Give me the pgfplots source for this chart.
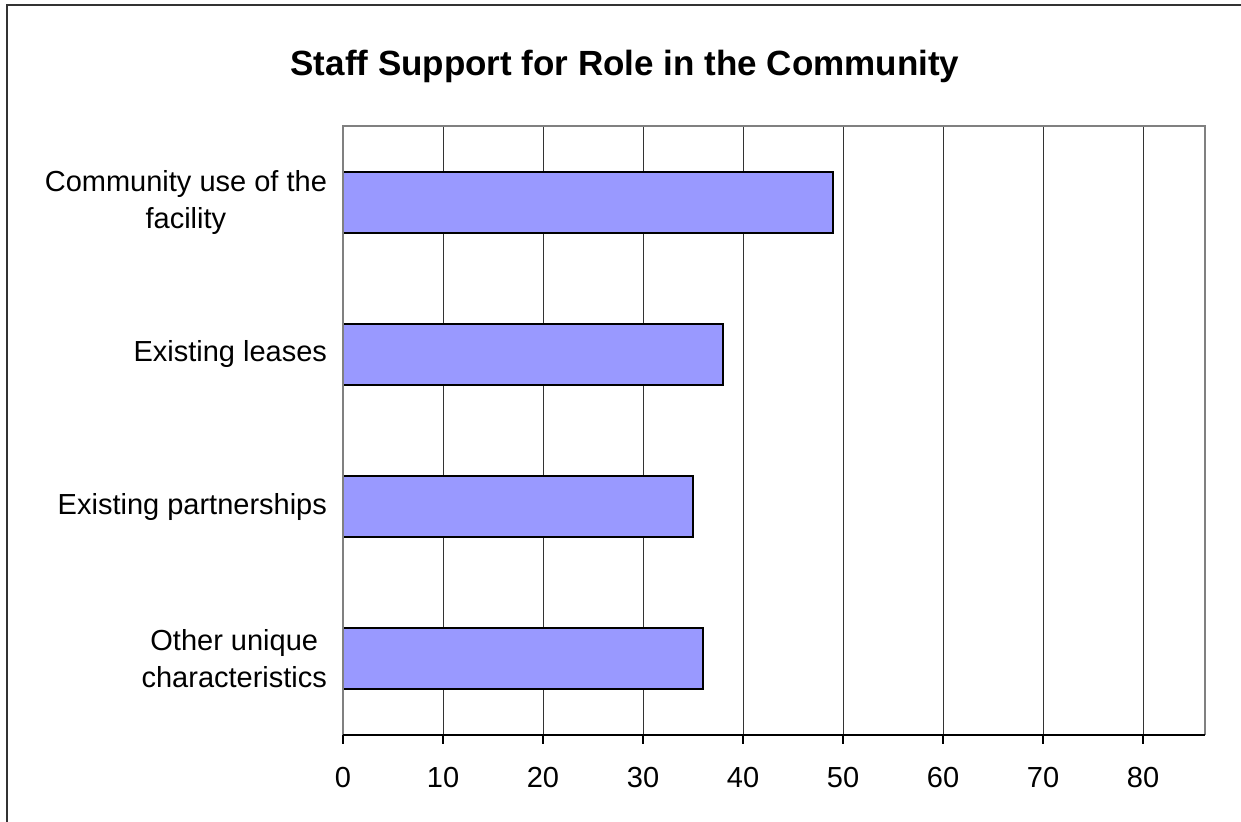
\documentclass[border=0pt]{standalone}
\usepackage{pgfplots}
\pgfplotsset{compat=1.18}
\usepackage{fontspec}
\setmainfont{Liberation Sans}
\definecolor{barblue}{HTML}{9999FF}
\begin{document}
\begin{tikzpicture}
\useasboundingbox (0,0) rectangle (620.5pt,411pt);
\draw[line width=1pt, black!80] (3.5pt,-5pt) -- (3.5pt,408.5pt) -- (630pt,408.5pt);
\node[font=\fontsize{17.5}{20}\selectfont\bfseries] at (312.5pt,378pt) {Staff Support for Role in the Community};
\begin{axis}[
  at={(171.5pt,43.5pt)}, anchor=south west,
  scale only axis, width=431pt, height=304.5pt,
  xmin=0, xmax=86.2, ymin=-0.5, ymax=3.5,
  xbar, bar width=30.5pt,
  xtick={0,10,...,80},
  ytick={0,1,2,3},
  yticklabels={{Other unique\\characteristics},{Existing partnerships},{Existing leases},{Community use of the\\facility}},
  yticklabel style={align=center, font=\fontsize{14.5}{18.5}\selectfont, xshift=0pt},
  xticklabel style={font=\fontsize{14.5}{18}\selectfont, yshift=-8pt},
  /pgf/number format/assume math mode=true,
  xtick pos=bottom, tick align=outside, major tick length=4.5pt,
  xtick style={black, line width=0.6pt},
  ytick style={draw=none},
  xmajorgrids, grid style={black!80, line width=0.5pt},
  axis line style={draw=none},
  clip=false,
]
\addplot[fill=barblue, draw=black, line width=1.1pt] coordinates {(36,0) (35,1) (38,2) (49,3)};
\draw[black!50, line width=1pt] (rel axis cs:0,0) -- (rel axis cs:0,1) -- (rel axis cs:1,1) -- (rel axis cs:1,0);
\draw[black, line width=0.8pt] (rel axis cs:0,0) -- (rel axis cs:1,0);
\end{axis}
\end{tikzpicture}
\end{document}
